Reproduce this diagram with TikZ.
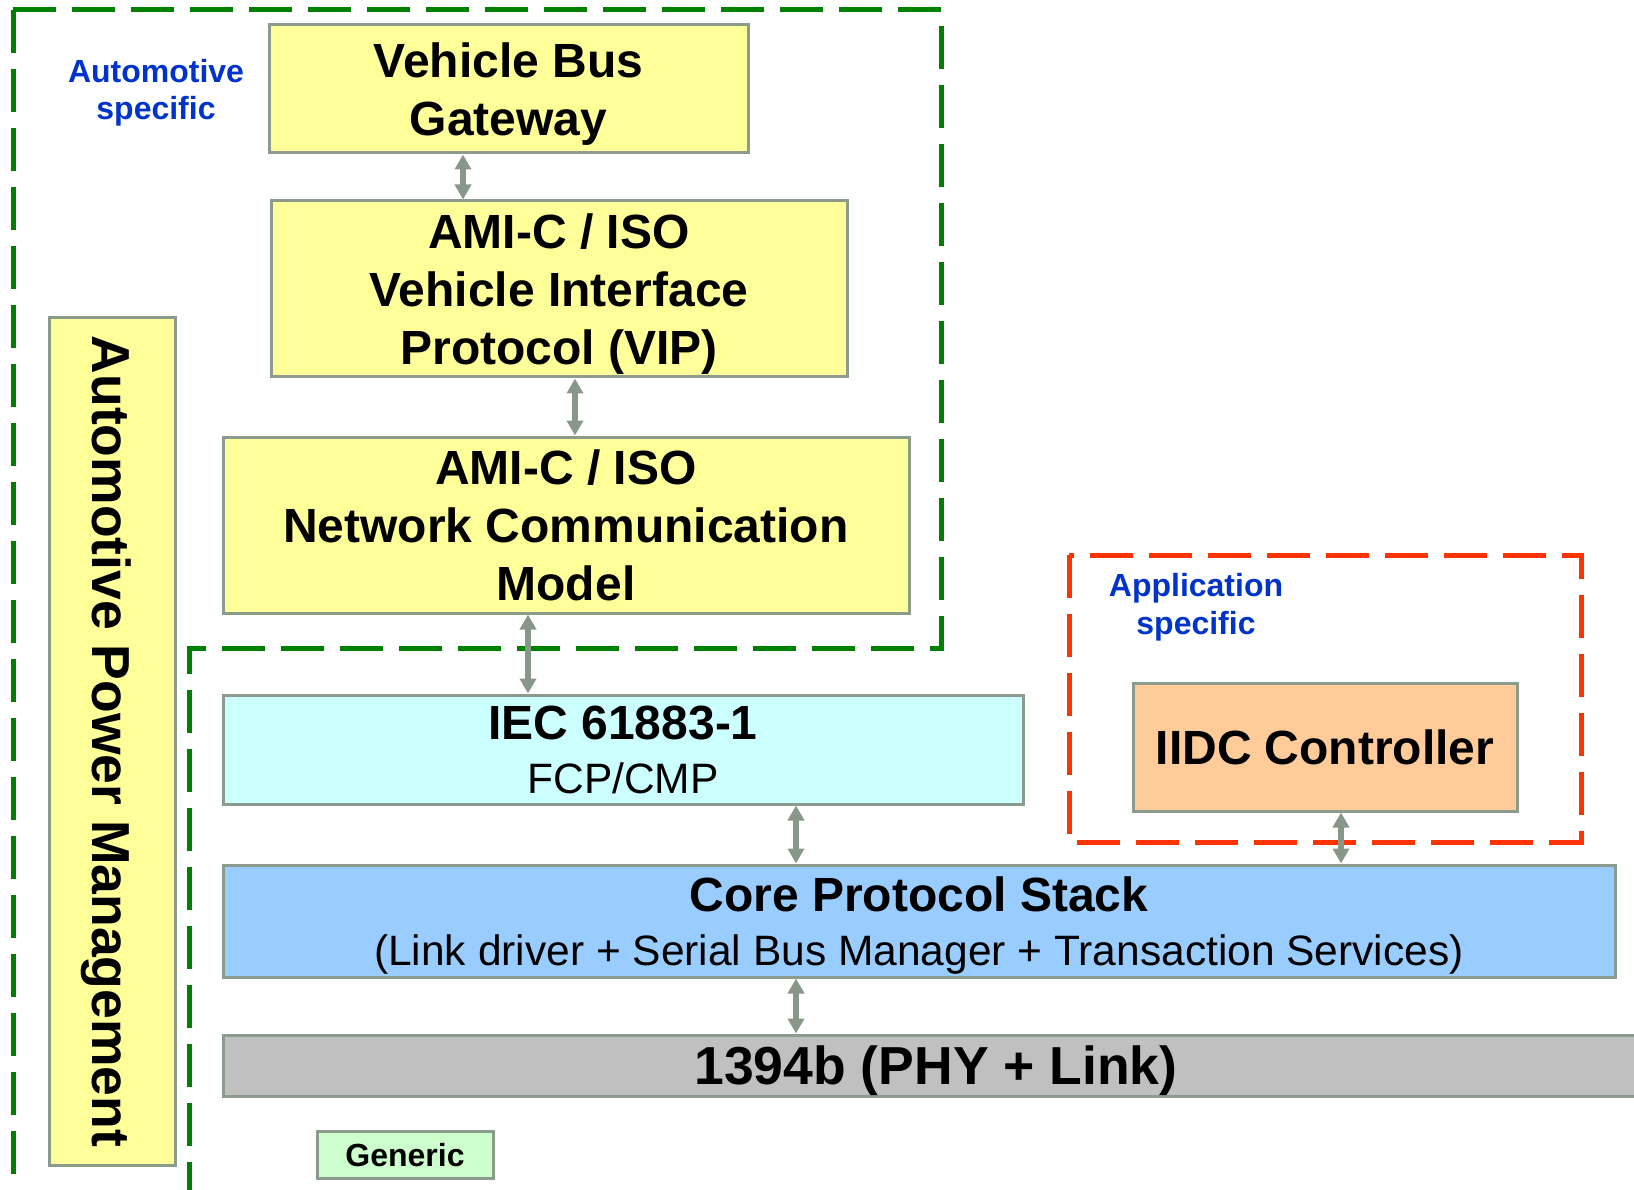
\documentclass[tikz,border=0pt]{standalone}
\usepackage{fontspec}
\setmainfont{Liberation Sans}
\usetikzlibrary{arrows.meta}
\definecolor{bordc}{HTML}{8C9C8C}
\definecolor{arrc}{HTML}{889888}
\definecolor{dgreen}{HTML}{008000}
\definecolor{dred}{HTML}{FF3300}
\definecolor{lblue}{HTML}{0033CC}
\definecolor{yel}{HTML}{FFFF99}
\definecolor{cya}{HTML}{CCFFFF}
\definecolor{blu}{HTML}{99CCFF}
\definecolor{gry}{HTML}{C0C0C0}
\definecolor{grn}{HTML}{CCFFCC}
\definecolor{org}{HTML}{FFCC99}
\begin{document}
\begin{tikzpicture}[x=1pt,y=-1pt,
  box/.style={draw=bordc, line width=3pt, inner sep=0pt, align=center, text depth=0pt,
    font=\fontsize{48}{58}\selectfont\bfseries},
  twoline/.style={box, font=\fontsize{42.5}{54}\selectfont},
  lbl/.style={inner sep=0pt, align=center, text=lblue, text depth=0pt,
    font=\fontsize{32}{37.5}\selectfont\bfseries},
  arr/.style={{Triangle[length=15pt,width=16pt]}-{Triangle[length=15pt,width=16pt]},
    draw=arrc, line width=5.5pt},
  gdash/.style={draw=dgreen, line width=5pt, dash pattern=on 43pt off 16pt},
  rdash/.style={draw=dred, line width=5pt, dash pattern=on 43pt off 16pt}]
\useasboundingbox (0,0) rectangle (1634,1190);
\fill[white] (0,0) rectangle (1634,1190);

% green dashed region
\draw[gdash] (13,10) -- (941,10) -- (941,648) -- (189,648) -- (189,1195);
\draw[gdash] (13,10) -- (13,1195);

% red dashed region
\draw[rdash] (1069,555) rectangle (1581,842);

% labels
\node[lbl] (autolbl) at (156,89.5) {Automotive\\specific};
\node[lbl] (applbl) at (1196,604) {Application\\specific};

% boxes
\node[box, fill=yel, minimum width=479pt, minimum height=128pt] (vbg) at (508.5,89) {Vehicle Bus\\Gateway};
\node[box, fill=yel, minimum width=576pt, minimum height=176pt] (vip) at (559,289) {AMI-C / ISO\\Vehicle Interface\\Protocol (VIP)};
\node[box, fill=yel, minimum width=686pt, minimum height=176pt] (ncm) at (566,525) {AMI-C / ISO\\Network Communication\\Model};
\node[twoline, fill=cya, minimum width=800pt, minimum height=109pt] (iec) at (623,749.5) {{\fontsize{48}{54}\selectfont\bfseries IEC 61883-1}\\FCP/CMP};
\node[twoline, fill=blu, minimum width=1392pt, minimum height=112pt] (core) at (919,921) {{\fontsize{48}{54}\selectfont\bfseries Core Protocol Stack}\\(Link driver + Serial Bus Manager + Transaction Services)};
\node[box, fill=gry, minimum width=1426pt, minimum height=61pt, font=\fontsize{53.5}{60}\selectfont\bfseries] (phy) at (936,1065.5) {1394b (PHY + Link)};
\node[box, fill=grn, minimum width=176pt, minimum height=47pt, font=\fontsize{32}{38}\selectfont\bfseries] (generic) at (405,1154.5) {Generic};
\node[box, fill=yel, rotate=-90, minimum width=847pt, minimum height=126pt, font=\fontsize{53.5}{60}\selectfont\bfseries] (apm) at (112,741.5) {Automotive Power Management};
\node[box, fill=org, minimum width=384pt, minimum height=128pt] (iidc) at (1325,747) {IIDC Controller};

% connector x positions
\coordinate (a1) at (463,0);
\coordinate (a2) at (575,0);
\coordinate (a3) at (528,0);
\coordinate (a4) at (796,0);
\coordinate (a5) at (1341,0);

\draw[arr] (vbg.south -| a1) -- (vip.north -| a1);
\draw[arr] (vip.south -| a2) -- (ncm.north -| a2);
\draw[arr] (ncm.south -| a3) -- (iec.north -| a3);
\draw[arr] (iec.south -| a4) -- (core.north -| a4);
\draw[arr] (iidc.south -| a5) -- (core.north -| a5);
\draw[arr] (core.south -| a4) -- (phy.north -| a4);
\end{tikzpicture}
\end{document}
